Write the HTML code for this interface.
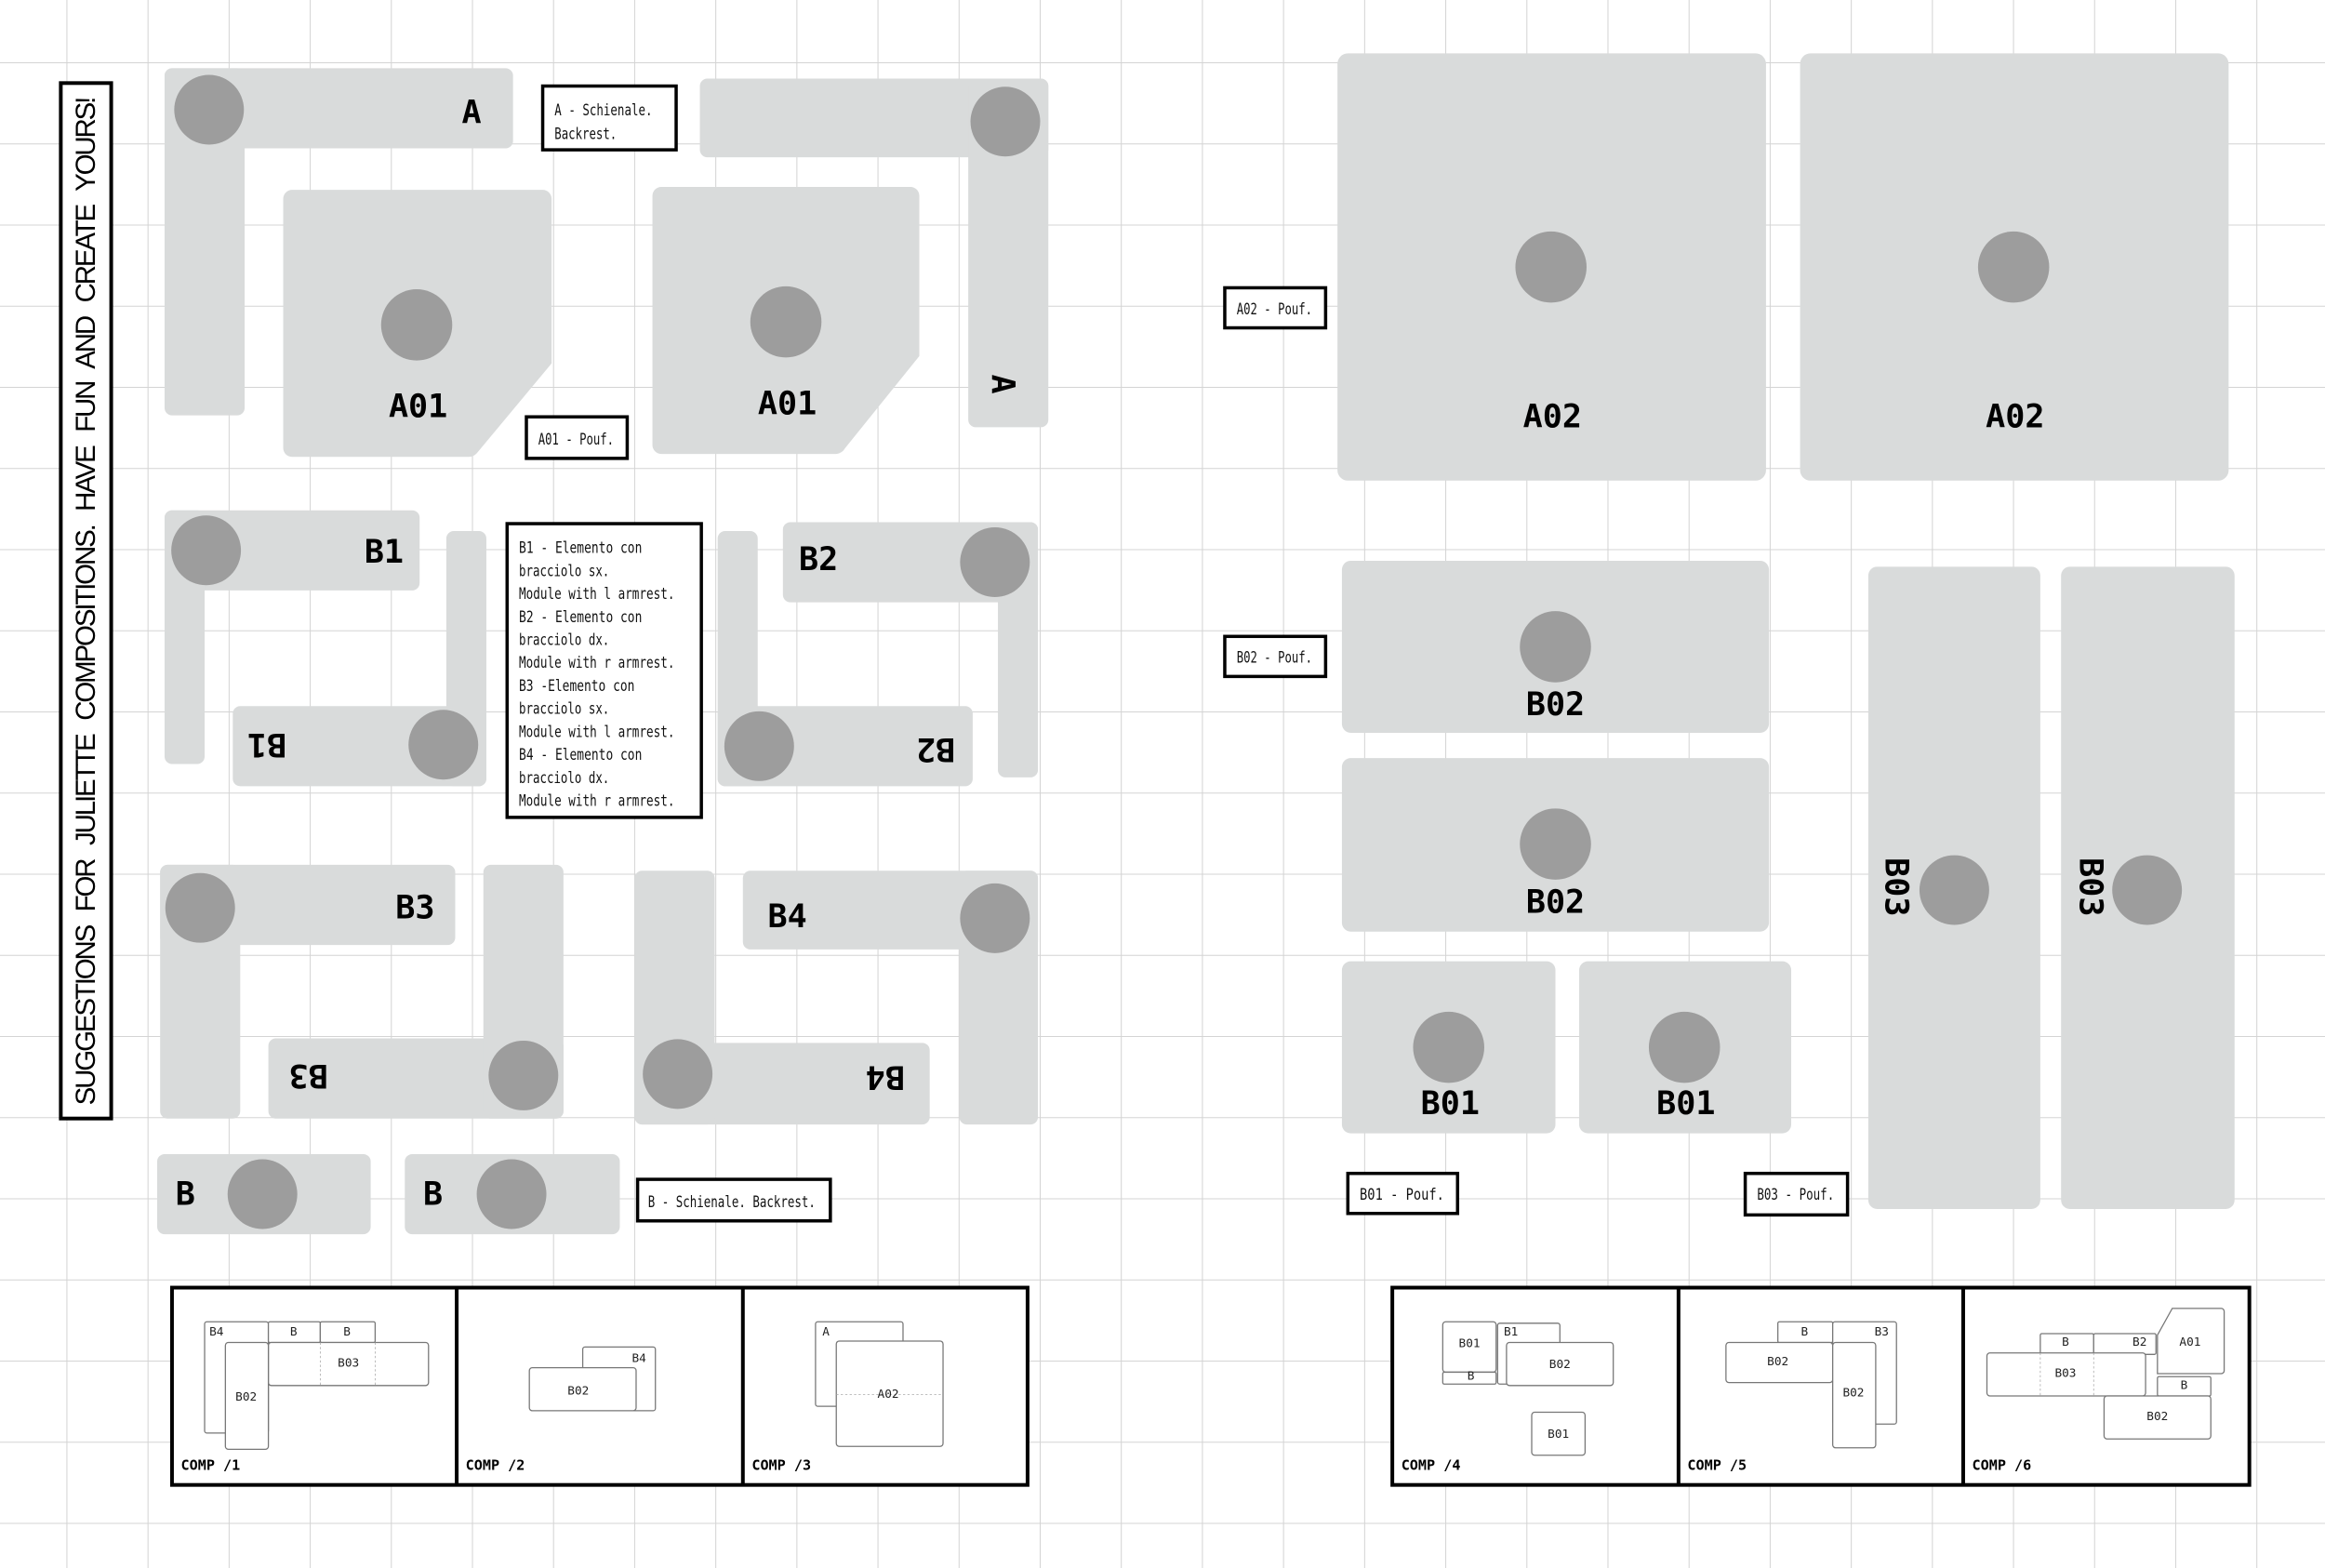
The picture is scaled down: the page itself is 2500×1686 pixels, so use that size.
<!DOCTYPE html>
<html><head><meta charset="utf-8"><style>html,body{margin:0;padding:0;background:#fff}svg{display:block}</style></head>
<body>
<svg width="2500" height="1686" viewBox="0 0 1568 1057" preserveAspectRatio="none" xmlns="http://www.w3.org/2000/svg">
<defs>
<pattern id="g" x="44.8" y="42" width="54.7" height="54.7" patternUnits="userSpaceOnUse">
<path d="M0 0V54.7M0 0H54.7" stroke="#d4d4d4" stroke-width="1.3" fill="none"/>
</pattern>
</defs>
<rect width="1568" height="1057" fill="#fff"/>
<rect width="1568" height="1057" fill="url(#g)"/>

<g fill="#d9dbdb">
<!-- A left -->
<rect x="111" y="46" width="235" height="54" rx="5"/><rect x="111" y="46" width="54" height="234" rx="5"/>
<path d="M191 134a6 6 0 0 1 6-6h169a6 6 0 0 1 6 6v111l-50 60a8 8 0 0 1-6 3h-119a6 6 0 0 1-6-6z"/>
<!-- A right -->
<rect x="472" y="53" width="235" height="53" rx="5"/><rect x="653" y="53" width="54" height="235" rx="5"/>
<path d="M440 132a6 6 0 0 1 6-6h168a6 6 0 0 1 6 6v108l-50 62a8 8 0 0 1-6 4h-118a6 6 0 0 1-6-6z"/>
<!-- B1 -->
<rect x="111" y="344" width="172" height="54" rx="5"/><rect x="111" y="344" width="27" height="171" rx="5"/>
<rect x="157" y="476" width="171" height="54" rx="5"/><rect x="301" y="358" width="27" height="172" rx="5"/>
<!-- B2 -->
<rect x="528" y="352" width="172" height="54" rx="5"/><rect x="673" y="352" width="27" height="172" rx="5"/>
<rect x="484" y="476" width="172" height="54" rx="5"/><rect x="484" y="358" width="27" height="172" rx="5"/>
<!-- B3 -->
<rect x="108" y="583" width="199" height="54" rx="5"/><rect x="108" y="583" width="54" height="171" rx="5"/>
<rect x="181" y="700" width="199" height="54" rx="5"/><rect x="326" y="583" width="54" height="171" rx="5"/>
<!-- B4 -->
<rect x="501" y="587" width="199" height="53" rx="5"/><rect x="647" y="587" width="53" height="171" rx="5"/>
<rect x="428" y="703" width="199" height="55" rx="5"/><rect x="428" y="587" width="54" height="171" rx="5"/>
<!-- B -->
<rect x="106" y="778" width="144" height="54" rx="5"/><rect x="273" y="778" width="145" height="54" rx="5"/>
<!-- right page -->
<rect x="902" y="36" width="289" height="288" rx="7"/><rect x="1214" y="36" width="289" height="288" rx="7"/>
<rect x="905" y="378" width="288" height="116" rx="6"/><rect x="905" y="511" width="288" height="117" rx="6"/>
<rect x="905" y="648" width="144" height="116" rx="6"/><rect x="1065" y="648" width="143" height="116" rx="6"/>
<rect x="1260" y="382" width="116" height="433" rx="6"/><rect x="1390" y="382" width="117" height="433" rx="6"/>
</g>

<g fill="#9d9d9d">
<circle cx="141" cy="74" r="23.5"/><circle cx="281" cy="219" r="24"/>
<circle cx="678" cy="82" r="23.5"/><circle cx="530" cy="217" r="24"/>
<circle cx="139" cy="371" r="23.5"/><circle cx="299" cy="502" r="23.5"/>
<circle cx="671" cy="379" r="23.5"/><circle cx="512" cy="503" r="23.5"/>
<circle cx="135" cy="612" r="23.5"/><circle cx="353" cy="725" r="23.5"/>
<circle cx="671" cy="619" r="23.5"/><circle cx="457" cy="724" r="23.5"/>
<circle cx="177" cy="805" r="23.5"/><circle cx="345" cy="805" r="23.5"/>
<circle cx="1046" cy="180" r="24"/><circle cx="1358" cy="180" r="24"/>
<circle cx="1049" cy="436" r="24"/><circle cx="1049" cy="569" r="24"/>
<circle cx="977" cy="706" r="24"/><circle cx="1136" cy="706" r="24"/>
<circle cx="1318" cy="600" r="23.5"/><circle cx="1448" cy="600" r="23.5"/>
</g>

<g font-family="'DejaVu Sans Mono', 'Liberation Mono', monospace" font-weight="bold" font-size="22" fill="#000" text-anchor="middle" dominant-baseline="central">
<text x="318" y="76">A</text>
<text x="282" y="274">A01</text>
<text x="531" y="272">A01</text>
<text transform="translate(676,259) rotate(90)">A</text>
<text x="259" y="372">B1</text>
<text transform="translate(180,502) rotate(180)">B1</text>
<text x="552" y="377">B2</text>
<text transform="translate(631,505) rotate(180)">B2</text>
<text x="280" y="612">B3</text>
<text transform="translate(208,725) rotate(180)">B3</text>
<text x="531" y="618">B4</text>
<text transform="translate(597,726) rotate(180)">B4</text>
<text x="125" y="805">B</text>
<text x="292" y="805">B</text>
<text x="1047" y="281">A02</text>
<text x="1359" y="281">A02</text>
<text x="1049" y="475">B02</text>
<text x="1049" y="608">B02</text>
<text x="978" y="744">B01</text>
<text x="1137" y="744">B01</text>
<text transform="translate(1279,598) rotate(90)">B03</text>
<text transform="translate(1410,598) rotate(90)">B03</text>
</g>

<!-- title -->
<rect x="41" y="56" width="34" height="698" fill="#fff" stroke="#000" stroke-width="2.5"/>
<text transform="translate(58,405) rotate(-90)" font-family="'Liberation Sans', sans-serif" font-size="18.5" text-anchor="middle" dominant-baseline="central" textLength="680" lengthAdjust="spacing" word-spacing="6">SUGGESTIONS FOR JULIETTE COMPOSITIONS. HAVE FUN AND CREATE YOURS!</text>

<!-- note boxes -->
<g fill="#fff" stroke="#000" stroke-width="2.2">
<rect x="366" y="58" width="90" height="43"/>
<rect x="355" y="281" width="68" height="28"/>
<rect x="342" y="353" width="131" height="198"/>
<rect x="430" y="795" width="130" height="28"/>
<rect x="826" y="194" width="68" height="27"/>
<rect x="826" y="429" width="68" height="27"/>
<rect x="909" y="791" width="74" height="27"/>
<rect x="1177" y="791" width="69" height="28"/>
</g>
<g font-family="'DejaVu Sans Mono', monospace" font-size="10.5" fill="#111" dominant-baseline="central" lengthAdjust="spacingAndGlyphs">
<text x="374" y="74" textLength="66" lengthAdjust="spacingAndGlyphs">A - Schienale.</text>
<text x="374" y="90" textLength="42" lengthAdjust="spacingAndGlyphs">Backrest.</text>
<text x="363" y="296" textLength="51" lengthAdjust="spacingAndGlyphs">A01 - Pouf.</text>
<text x="350" y="369" textLength="83" lengthAdjust="spacingAndGlyphs">B1 - Elemento con</text>
<text x="350" y="384.5" textLength="61" lengthAdjust="spacingAndGlyphs">bracciolo sx.</text>
<text x="350" y="400" textLength="105" lengthAdjust="spacingAndGlyphs">Module with l armrest.</text>
<text x="350" y="415.5" textLength="83" lengthAdjust="spacingAndGlyphs">B2 - Elemento con</text>
<text x="350" y="431" textLength="61" lengthAdjust="spacingAndGlyphs">bracciolo dx.</text>
<text x="350" y="446.5" textLength="105" lengthAdjust="spacingAndGlyphs">Module with r armrest.</text>
<text x="350" y="462" textLength="78" lengthAdjust="spacingAndGlyphs">B3 -Elemento con</text>
<text x="350" y="477.5" textLength="61" lengthAdjust="spacingAndGlyphs">bracciolo sx.</text>
<text x="350" y="493" textLength="105" lengthAdjust="spacingAndGlyphs">Module with l armrest.</text>
<text x="350" y="508.5" textLength="83" lengthAdjust="spacingAndGlyphs">B4 - Elemento con</text>
<text x="350" y="524" textLength="61" lengthAdjust="spacingAndGlyphs">bracciolo dx.</text>
<text x="350" y="539.5" textLength="105" lengthAdjust="spacingAndGlyphs">Module with r armrest.</text>
<text x="437" y="810" textLength="113" lengthAdjust="spacingAndGlyphs">B - Schienale. Backrest.</text>
<text x="834" y="208" textLength="51" lengthAdjust="spacingAndGlyphs">A02 - Pouf.</text>
<text x="834" y="443" textLength="51" lengthAdjust="spacingAndGlyphs">B02 - Pouf.</text>
<text x="917" y="805" textLength="57" lengthAdjust="spacingAndGlyphs">B01  - Pouf.</text>
<text x="1185" y="805" textLength="52" lengthAdjust="spacingAndGlyphs">B03 - Pouf.</text>
</g>

<!-- comp boxes -->
<g fill="#fff" stroke="#000" stroke-width="2.5">
<rect x="116" y="868" width="577" height="133"/>
<rect x="939" y="868" width="578" height="133"/>
</g>
<g stroke="#000" stroke-width="2.5">
<line x1="308" y1="868" x2="308" y2="1001"/><line x1="501" y1="868" x2="501" y2="1001"/>
<line x1="1132" y1="868" x2="1132" y2="1001"/><line x1="1324" y1="868" x2="1324" y2="1001"/>
</g>
<g font-family="'DejaVu Sans Mono', monospace" font-weight="bold" font-size="9.5" fill="#000">
<text x="122" y="991">COMP /1</text><text x="314" y="991">COMP /2</text><text x="507" y="991">COMP /3</text>
<text x="945" y="991">COMP /4</text><text x="1138" y="991">COMP /5</text><text x="1330" y="991">COMP /6</text>
</g>

<g fill="#fff" stroke="#777" stroke-width="0.8">
<!-- comp1 -->
<rect x="138" y="891" width="43" height="75" rx="1.5"/>
<rect x="181" y="891" width="35" height="14" rx="1"/><rect x="216" y="891" width="37" height="14" rx="1"/>
<rect x="181" y="905" width="108" height="29" rx="2"/>
<rect x="152" y="905" width="29" height="72" rx="2"/>
<!-- comp2 -->
<rect x="393" y="908" width="49" height="43" rx="1.5"/>
<rect x="357" y="922" width="72" height="29" rx="2"/>
<!-- comp3 -->
<rect x="550" y="891" width="59" height="57" rx="1.5"/>
<rect x="564" y="904" width="72" height="71" rx="2"/>
<!-- comp4 -->
<rect x="973" y="891" width="36" height="34" rx="2"/><rect x="973" y="925" width="36" height="8" rx="1"/>
<rect x="1010" y="892" width="42" height="41" rx="1.5"/>
<rect x="1016" y="905" width="72" height="29" rx="2"/>
<rect x="1033" y="952" width="36" height="29" rx="2"/>
<!-- comp5 -->
<rect x="1199" y="891" width="37" height="14" rx="1"/>
<rect x="1236" y="891" width="43" height="69" rx="1.5"/>
<rect x="1164" y="905" width="72" height="27" rx="2"/>
<rect x="1236" y="905" width="29" height="71" rx="2"/>
<!-- comp6 -->
<rect x="1376" y="899" width="36" height="14" rx="1"/><rect x="1412" y="899" width="42" height="14" rx="1"/>
<path d="M1455 900l10-18h33a2 2 0 0 1 2 2v40a2 2 0 0 1-2 2h-43z"/>
<rect x="1340" y="912" width="107" height="29" rx="2"/>
<rect x="1455" y="928" width="36" height="13" rx="1"/>
<rect x="1419" y="941" width="72" height="29" rx="2"/>
</g>
<g stroke="#aaa" stroke-width="0.5" stroke-dasharray="1.5,1.5">
<line x1="216" y1="905" x2="216" y2="934"/><line x1="253" y1="905" x2="253" y2="934"/>
<line x1="564" y1="940" x2="636" y2="940"/>
<line x1="1376" y1="912" x2="1376" y2="941"/><line x1="1412" y1="912" x2="1412" y2="941"/>
</g>
<g font-family="'DejaVu Sans Mono', monospace" font-size="8" fill="#222" text-anchor="middle" dominant-baseline="central">
<text x="146" y="898">B4</text><text x="198" y="898">B</text><text x="234" y="898">B</text>
<text x="235" y="919">B03</text><text x="166" y="942">B02</text>
<text x="431" y="916">B4</text><text x="390" y="938">B02</text>
<text x="557" y="898">A</text><text x="599" y="940">A02</text>
<text x="991" y="906">B01</text><text x="992" y="928">B</text><text x="1019" y="898">B1</text>
<text x="1052" y="920">B02</text><text x="1051" y="967">B01</text>
<text x="1217" y="898">B</text><text x="1269" y="898">B3</text><text x="1199" y="918">B02</text><text x="1250" y="939">B02</text>
<text x="1393" y="905">B</text><text x="1443" y="905">B2</text><text x="1477" y="905">A01</text>
<text x="1393" y="926">B03</text><text x="1473" y="934">B</text><text x="1455" y="955">B02</text>
</g>
</svg>
</body></html>
